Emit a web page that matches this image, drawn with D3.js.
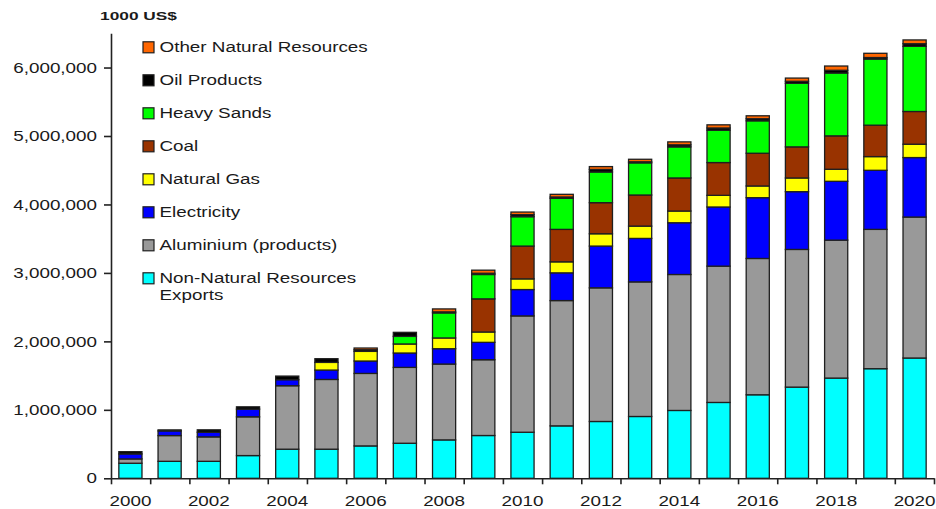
<!DOCTYPE html>
<html>
<head>
<meta charset="utf-8">
<script src="https://cdn.jsdelivr.net/npm/d3@7"></script>
<style>
  html, body { margin: 0; padding: 0; background: #fff; }
  svg { display: block; }
  text { font-family: "Liberation Sans", Arial, Helvetica, sans-serif; fill: #1a1a1a; }
</style>
</head>
<body>
<svg id="chart" width="936" height="509"></svg>
<script>
// Export values by year, in 1000 US$
const years = d3.range(2000, 2021).map(String);

const nonNaturalExports = [220000, 248000, 248000, 332000, 425000, 425000, 473000, 512000, 561000, 625000, 673000, 766000, 830000, 903000, 991000, 1108000, 1220000, 1332000, 1464000, 1601000, 1757000];
const aluminium        = [63000, 376000, 357000, 566000, 927000, 1019000, 1059000, 1108000, 1108000, 1107000, 1699000, 1830000, 1952000, 1966000, 1986000, 1991000, 1991000, 2011000, 2015000, 2035000, 2059000];
const electricity      = [73000, 68000, 68000, 112000, 88000, 137000, 181000, 210000, 224000, 254000, 385000, 405000, 610000, 635000, 756000, 864000, 888000, 844000, 859000, 863000, 869000];
const naturalGas       = [0, 0, 0, 0, 0, 112000, 141000, 132000, 157000, 151000, 156000, 161000, 180000, 180000, 171000, 170000, 171000, 200000, 176000, 200000, 195000];
const coal             = [0, 0, 0, 0, 0, 0, 0, 0, 0, 484000, 479000, 474000, 454000, 454000, 483000, 479000, 478000, 454000, 488000, 459000, 478000];
const heavySands       = [0, 0, 0, 0, 0, 0, 0, 111000, 366000, 356000, 429000, 453000, 448000, 470000, 454000, 473000, 474000, 928000, 918000, 966000, 952000];
const oilProducts      = [33000, 15000, 35000, 34000, 53000, 54000, 24000, 59000, 15000, 18000, 30000, 20000, 37000, 15000, 30000, 32000, 30000, 30000, 40000, 22000, 38000];
const otherNatural     = [0, 0, 0, 0, 0, 0, 25000, 0, 43000, 45000, 38000, 39000, 42000, 37000, 43000, 46000, 43000, 47000, 62000, 62000, 55000];

const seriesNames = ["Non-Natural Resources Exports", "Aluminium (products)", "Electricity", "Natural Gas", "Coal", "Heavy Sands", "Oil Products", "Other Natural Resources"];
const seriesValues = [nonNaturalExports, aluminium, electricity, naturalGas, coal, heavySands, oilProducts, otherNatural];
const seriesColors = ["#00ffff", "#999999", "#0000ff", "#ffff00", "#993300", "#00ff00", "#000000", "#ff6600"];

const yTicks = [0, 1000000, 2000000, 3000000, 4000000, 5000000, 6000000];
const xLabels = years.filter((y, i) => i % 2 === 0);

// Rows for the stack
const rows = years.map((yr, i) => {
  const r = { year: yr };
  seriesNames.forEach((s, k) => { r[s] = seriesValues[k][i]; });
  return r;
});

const svg = d3.select("#chart");
const TX = 1.3; // horizontal text stretch
const plotL = 111, plotR = 934, plotT = 33.3, plotB = 478.3;

const x = d3.scaleBand().domain(years).range([plotL, plotR]).paddingInner(0.41).paddingOuter(0.2);
const y = d3.scaleLinear().domain([0, 6500000]).range([plotB, plotT]);

const stack = d3.stack().keys(seriesNames);
const layers = stack(rows);

// Bars
const g = svg.append("g");
g.selectAll("g.layer")
  .data(layers)
  .join("g")
  .attr("class", "layer")
  .attr("fill", (d, i) => seriesColors[i])
  .selectAll("rect")
  .data(d => d.filter(p => p[1] - p[0] > 0))
  .join("rect")
  .attr("x", d => x(d.data.year))
  .attr("width", x.bandwidth())
  .attr("y", d => y(d[1]))
  .attr("height", d => y(d[0]) - y(d[1]))
  .attr("stroke", "#1f1f1f")
  .attr("stroke-width", 1.3);

// Y axis
const yAxis = svg.append("g")
  .attr("transform", `translate(${plotL},0)`)
  .call(d3.axisLeft(y).tickValues(yTicks).tickFormat(d3.format(",")).tickSize(7).tickSizeOuter(0));
yAxis.select(".domain").attr("stroke", "#222").attr("stroke-width", 1.6);
yAxis.selectAll(".tick line").attr("stroke", "#222").attr("stroke-width", 1.6);
yAxis.selectAll(".tick text")
  .attr("x", -14 / TX)
  .attr("transform", `scale(${TX},1)`)
  .style("font-size", "14.5px")
  .style("fill", "#1a1a1a")
  .attr("font-family", null);

// X axis: boundary ticks
const xb = d3.scaleLinear().domain([0, years.length]).range([plotL, plotR]);
const xAxisTicks = svg.append("g")
  .attr("transform", `translate(0,${plotB})`)
  .call(d3.axisBottom(xb).tickValues(d3.range(0, years.length + 1)).tickFormat("").tickSize(6).tickSizeOuter(0));
xAxisTicks.select(".domain").attr("stroke", "#222").attr("stroke-width", 1.6);
xAxisTicks.selectAll(".tick line").attr("stroke", "#222").attr("stroke-width", 1.6);

// X axis: year labels
const xAxisLabels = svg.append("g")
  .attr("transform", `translate(0,${plotB})`)
  .call(d3.axisBottom(x).tickValues(xLabels).tickSize(0));
xAxisLabels.select(".domain").remove();
xAxisLabels.selectAll(".tick text")
  .attr("y", 17)
  .attr("transform", `scale(${TX},1)`)
  .style("font-size", "14.5px")
  .style("fill", "#1a1a1a")
  .attr("font-family", null);

// Unit label
svg.append("text")
  .attr("transform", `translate(138.5,20) scale(1.65,1)`)
  .attr("text-anchor", "middle")
  .style("font-size", "10.5px")
  .style("font-weight", "bold")
  .text("1000 US$");

// Legend (top entry first)
const legendOrder = d3.range(seriesNames.length).reverse();
const legend = svg.append("g");
legendOrder.forEach((k, row) => {
  const cy = 47.3 + row * 33;
  legend.append("rect")
    .attr("x", 143).attr("y", cy - 5.5)
    .attr("width", 11).attr("height", 11)
    .attr("fill", seriesColors[k])
    .attr("stroke", "#1f1f1f").attr("stroke-width", 1.2);
  const lines = k === 0 ? ["Non-Natural Resources", "Exports"] : [seriesNames[k]];
  lines.forEach((ln, j) => {
    legend.append("text")
      .attr("transform", `translate(159.5,${cy + 5 + j * 17}) scale(${TX},1)`)
      .style("font-size", "14.5px")
      .text(ln);
  });
});
</script>
</body>
</html>
